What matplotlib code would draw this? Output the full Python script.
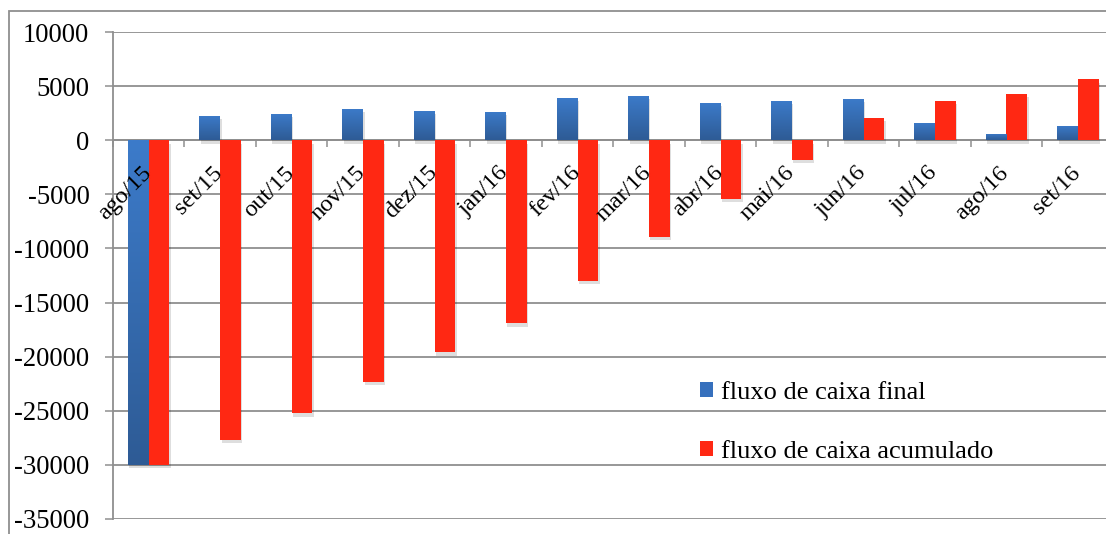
import numpy as np
import matplotlib
matplotlib.use("Agg")
import matplotlib.pyplot as plt
from matplotlib.patches import Rectangle, Patch
from matplotlib.colors import LinearSegmentedColormap
from matplotlib.transforms import ScaledTranslation
import matplotlib.patheffects as pe

categories = ["ago/15", "set/15", "out/15", "nov/15", "dez/15", "jan/16", "fev/16",
              "mar/16", "abr/16", "mai/16", "jun/16", "jul/16", "ago/16", "set/16"]
fluxo_final = [-30000, 2250, 2430, 2920, 2700, 2610, 3900, 4090, 3450, 3630, 3810, 1600, 580, 1320]
fluxo_acumulado = [-30000, -27700, -25250, -22300, -19600, -16900, -13000, -8900, -5400, -1790,
                   2060, 3630, 4280, 5640]
yticks = [10000, 5000, 0, -5000, -10000, -15000, -20000, -25000, -30000, -35000]
labels = ["fluxo de caixa final", "fluxo de caixa acumulado"]

plt.rcParams['font.family'] = ['Liberation Serif', 'DejaVu Serif']

W, H = 1106, 534
fig = plt.figure(figsize=(W / 100, H / 100), dpi=100)

grid_c = '#8f8f8f'
blue = '#3670bd'
red = '#ff2813'

ax = fig.add_axes([113 / W, 1 - 519 / H, (1113.6 - 113) / W, (519 - 32) / H])
x = np.arange(len(categories))
bw = 0.29

shadow = [pe.withSimplePatchShadow(offset=(1, -2.5), shadow_rgbFace='k', alpha=0.13)]
b1 = ax.bar(x - bw / 2, fluxo_final, bw, color=blue, zorder=3, path_effects=shadow)
b2 = ax.bar(x + bw / 2, fluxo_acumulado, bw, color=red, zorder=3, path_effects=shadow)

cmap = LinearSegmentedColormap.from_list('bl', ['#2e5b95', '#3c7bca'])
grad = np.linspace(0, 1, 256).reshape(-1, 1)
for r in b1:
    x0, y0 = r.get_x(), r.get_y()
    w, h = r.get_width(), r.get_height()
    ylo, yhi = min(y0, y0 + h), max(y0, y0 + h)
    im = ax.imshow(grad, cmap=cmap, origin='lower', aspect='auto',
                   extent=(x0, x0 + w, ylo, yhi), zorder=4)
    im.set_clip_path(r)

ax.set_xlim(-0.5, len(categories) - 0.5)
ax.set_ylim(-35000, 10000)

ax.set_yticks(yticks)
ax.set_yticklabels([str(v) for v in yticks], fontsize=19.2)
ax.yaxis.grid(True, color=grid_c, linewidth=1.3, zorder=1)
ax.set_axisbelow(True)
ax.tick_params(axis='y', length=6, width=1.1, color=grid_c, pad=11)

for s in ['top', 'right']:
    ax.spines[s].set_visible(False)
ax.spines['left'].set_color(grid_c)
ax.spines['left'].set_linewidth(1.3)
ax.spines['bottom'].set_position(('data', 0))
ax.spines['bottom'].set_color(grid_c)
ax.spines['bottom'].set_linewidth(1.3)

ax.set_xticks(np.arange(len(categories) + 1) - 0.5)
ax.set_xticklabels([])
ax.tick_params(axis='x', which='major', length=5, width=1.1, color=grid_c)

off = ScaledTranslation(-8 / 100, -22 / 100, fig.dpi_scale_trans)
for i, c in enumerate(categories):
    ax.text(x[i], 0, c, transform=ax.transData + off, fontsize=17.5, rotation=45,
            ha='right', va='top', rotation_mode='anchor', zorder=10)

handles = [Patch(facecolor=blue), Patch(facecolor=red)]
leg = ax.legend(handles, labels, loc='upper left', bbox_to_anchor=(700 / W, 1 - 382 / H),
                bbox_transform=fig.transFigure, frameon=False, fontsize=19,
                handlelength=0.5, handleheight=0.5, handletextpad=0.3,
                labelspacing=1.4, borderpad=0, borderaxespad=0)

fig.patches.append(Rectangle((9 / W, -0.2), 1.2, 1 - 11 / H + 0.2, transform=fig.transFigure,
                             fill=False, edgecolor=grid_c, linewidth=1.3))

fig.savefig('out.png', dpi=100)
